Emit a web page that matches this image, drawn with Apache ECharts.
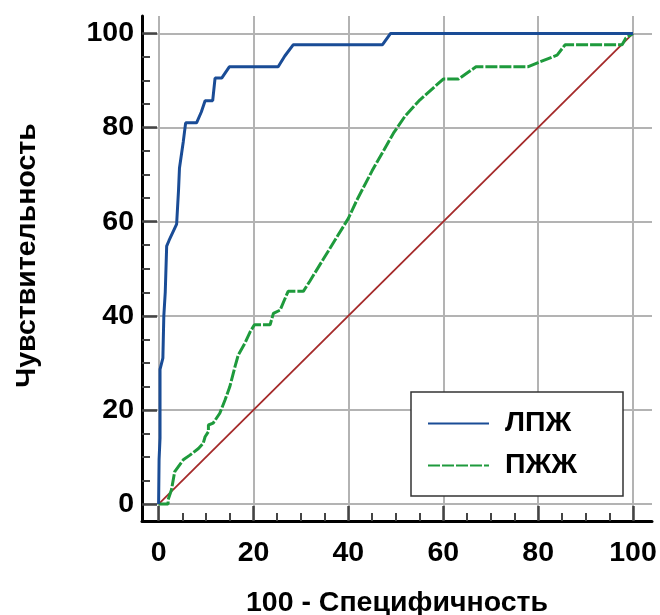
<!DOCTYPE html>
<html>
<head>
<meta charset="utf-8">
<script src="https://cdn.jsdelivr.net/npm/echarts@6/dist/echarts.min.js"></script>
<style>
html,body{margin:0;padding:0;background:#fff;}
#chart{width:660px;height:615px;}
</style>
</head>
<body>
<div id="chart"></div>
<script>
// ---- Data ----
var seriesNames = ['ЛПЖ', 'ПЖЖ'];
var xAxisTitle = '100 - Специфичность';
var yAxisTitle = 'Чувствительность';
var majorTicks = [0, 20, 40, 60, 80, 100];
var minorTicks = [5, 10, 15, 25, 30, 35, 45, 50, 55, 65, 70, 75, 85, 90, 95];

// ЛПЖ ROC curve: [100 - specificity, sensitivity]
var lpzhCurve = [
  [0, 0], [0.1, 9.5], [0.3, 14], [0.3, 28.6], [0.9, 31], [1.1, 40], [1.4, 45],
  [1.7, 54.8], [2.2, 56], [3.8, 59.5], [4.2, 59.5], [4.2, 66.7], [4.4, 71.4],
  [5.2, 77], [5.7, 81], [8.0, 81], [9.0, 83.3], [9.8, 85.7], [11.4, 85.7],
  [11.9, 90.5], [13.3, 90.5], [14.9, 92.9], [25.2, 92.9], [26.6, 95.2],
  [28.4, 97.6], [47.2, 97.6], [48.9, 100], [100, 100]
];

// ПЖЖ ROC curve
var pzhzhCurve = [
  [0, 0], [2.0, 0], [2.0, 0.9], [2.7, 3], [3.4, 6.9], [5.2, 9.4], [6.6, 10.4],
  [8.4, 11.8], [9.4, 12.9], [9.8, 14.3], [10.5, 15.4], [10.5, 16.8], [11.5, 17.2],
  [12.9, 19.3], [14, 22.1], [15, 24.9], [16.1, 29.2], [16.8, 31.7], [18.2, 34.2],
  [19.3, 36.6], [20.2, 38.1], [23.5, 38.1], [24.2, 40.5], [25.6, 41.2],
  [27.3, 45.2], [30.5, 45.2], [31.9, 47.4], [34.7, 52], [40, 60.7], [41.8, 64.6],
  [45, 70.8], [49.5, 78.8], [52, 82.5], [55.1, 85.9], [60, 90.3], [63.2, 90.3],
  [66.9, 92.9], [77.8, 92.9], [80, 93.8], [84, 95.4], [85.7, 97.6], [97.7, 97.6],
  [98.5, 99], [100, 100]
];

// Reference diagonal
var diagonal = [[0, 0], [100, 100]];

// ---- Chart ----
var FONT = "'Liberation Sans', Arial, sans-serif";
var FS = 28.5;
var chart = echarts.init(document.getElementById('chart'), null, {renderer: 'canvas'});

var xMin = -3.5, xMax = 104, yMin = -3.6, yMax = 103.7;

function majorAxis(isX) {
  return {
    type: 'value',
    min: isX ? xMin : yMin,
    max: isX ? xMax : yMax,
    position: isX ? 'bottom' : 'left',
    name: isX ? xAxisTitle : yAxisTitle,
    nameLocation: 'middle',
    nameGap: isX ? 68 : 100,
    nameTextStyle: isX
      ? {fontFamily: FONT, fontSize: FS, fontWeight: 'bold', color: '#000'}
      : {fontFamily: FONT, fontSize: FS, fontWeight: 'bold', color: '#000', padding: [0, 0, 0, 26]},
    axisLine: {show: true, onZero: false, lineStyle: {color: '#000', width: 3}},
    axisTick: {show: true, inside: true, length: 15, customValues: majorTicks,
               lineStyle: {color: '#444', width: 2.5}},
    axisLabel: {show: true, customValues: majorTicks, margin: isX ? 18 : 8,
                fontFamily: FONT, fontSize: FS, fontWeight: 'bold', color: '#000'},
    splitLine: {show: true, lineStyle: {color: '#b3b3b3', width: 2}},
    minorTick: {show: false},
    minorSplitLine: {show: false}
  };
}
function minorAxis(isX) {
  return {
    type: 'value',
    min: isX ? xMin : yMin,
    max: isX ? xMax : yMax,
    position: isX ? 'bottom' : 'left',
    axisLine: {show: false, onZero: false},
    axisTick: {show: true, inside: true, length: 8, customValues: minorTicks,
               lineStyle: {color: '#444', width: 2}},
    axisLabel: {show: false},
    splitLine: {show: false}
  };
}

chart.setOption({
  animation: false,
  backgroundColor: '#fff',
  grid: {left: 142, right: 8, top: 16, bottom: 94, containLabel: false, outerBoundsMode: 'none'},
  xAxis: [majorAxis(true), minorAxis(true)],
  yAxis: [majorAxis(false), minorAxis(false)],
  legend: {
    data: seriesNames,
    orient: 'vertical',
    left: 411,
    top: 392,
    padding: [17, 46, 16, 16],
    itemWidth: 61,
    itemHeight: 14,
    itemGap: 13,
    backgroundColor: '#fff',
    borderColor: '#333',
    borderWidth: 1.5,
    borderRadius: 0,
    itemStyle: {opacity: 0},
    lineStyle: {width: 2},
    textStyle: {fontFamily: FONT, fontSize: FS, fontWeight: 'bold', color: '#000', lineHeight: 28,
                padding: [0, 0, 0, 11]}
  },
  series: [
    {
      name: 'diag',
      type: 'line',
      data: diagonal,
      xAxisIndex: 0, yAxisIndex: 0,
      symbol: 'none',
      silent: true,
      lineStyle: {color: '#a52a2a', width: 1.8},
      z: 2
    },
    {
      name: seriesNames[1],
      type: 'line',
      data: pzhzhCurve,
      xAxisIndex: 0, yAxisIndex: 0,
      symbol: 'none',
      showSymbol: false,
      color: '#1e9a3c',
      lineStyle: {color: '#1e9a3c', width: 3, type: [12, 2]},
      z: 3
    },
    {
      name: seriesNames[0],
      type: 'line',
      data: lpzhCurve,
      xAxisIndex: 0, yAxisIndex: 0,
      symbol: 'none',
      showSymbol: false,
      color: '#1a4c96',
      lineStyle: {color: '#1a4c96', width: 3},
      z: 4
    }
  ]
});
</script>
</body>
</html>
